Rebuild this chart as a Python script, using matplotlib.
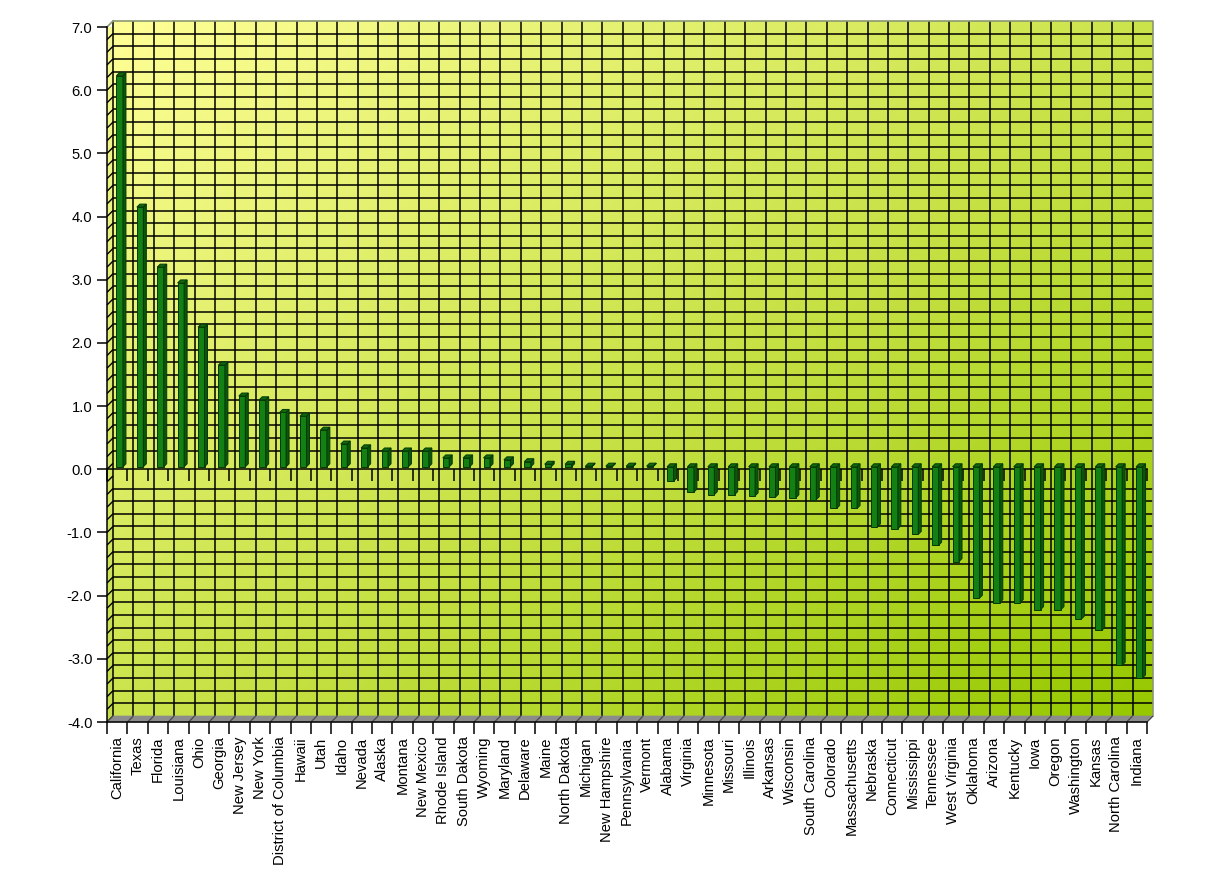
import numpy as np
import matplotlib
matplotlib.use('Agg')
import matplotlib.pyplot as plt
from matplotlib.patches import Polygon
from matplotlib.collections import LineCollection
from matplotlib import markers

states = ["California", "Texas", "Florida", "Louisiana", "Ohio", "Georgia",
          "New Jersey", "New York", "District of Columbia", "Hawaii", "Utah",
          "Idaho", "Nevada", "Alaska", "Montana", "New Mexico", "Rhode Island",
          "South Dakota", "Wyoming", "Maryland", "Delaware", "Maine",
          "North Dakota", "Michigan", "New Hampshire", "Pennsylvania", "Vermont",
          "Alabama", "Virginia", "Minnesota", "Missouri", "Illinois", "Arkansas",
          "Wisconsin", "South Carolina", "Colorado", "Massachusetts", "Nebraska",
          "Connecticut", "Mississippi", "Tennessee", "West Virginia", "Oklahoma",
          "Arizona", "Kentucky", "Iowa", "Oregon", "Washington", "Kansas",
          "North Carolina", "Indiana"]
values = [6.19, 4.11, 3.16, 2.91, 2.21, 1.61,
          1.12, 1.06, 0.86, 0.80, 0.58,
          0.36, 0.30, 0.25, 0.25, 0.25, 0.14,
          0.14, 0.14, 0.11, 0.08, 0.04,
          0.04, 0.01, 0.01, 0.01, 0.01,
          -0.23, -0.40, -0.44, -0.44, -0.46, -0.48,
          -0.49, -0.52, -0.66, -0.66, -0.95,
          -0.98, -1.07, -1.24, -1.50, -2.08,
          -2.15, -2.15, -2.26, -2.26, -2.41, -2.59,
          -3.14, -3.34]
y_ticks = [-4, -3, -2, -1, 0, 1, 2, 3, 4, 5, 6, 7]
y_tick_labels = ["-4.0", "-3.0", "-2.0", "-1.0", "0.0", "1.0", "2.0",
                 "3.0", "4.0", "5.0", "6.0", "7.0"]

plt.rcParams['font.family'] = ['Liberation Sans', 'DejaVu Sans']
plt.rcParams['font.size'] = 10.6

W, H = 1219, 881
fig = plt.figure(figsize=(W / 100, H / 100), dpi=100)
fig.patch.set_facecolor('white')
ax = fig.add_axes([107 / W, (H - 722) / H, 1040 / W, 695 / H])
ax.patch.set_visible(False)

n = len(states)
xmin, xmax = -0.5, n - 0.5
ymin, ymax = y_ticks[0], y_ticks[-1]
ax.set_xlim(xmin, xmax)
ax.set_ylim(ymin, ymax)

bb = ax.get_position()
px_x = (xmax - xmin) / (bb.width * W)
px_y = (ymax - ymin) / (bb.height * H)
# depth of back wall (pixels)
dX, dY = 6 * px_x, 6 * px_y

# ---- back wall gradient
nyi, nxi = 200, 400
u = np.linspace(0, 1, nxi)[None, :]
w = np.linspace(1, 0, nyi)[:, None]
t = np.clip(0.5 * (u + (1 - w)), 0, 1)
c0 = np.array([255, 255, 150]) / 255
c1 = np.array([150, 200, 0]) / 255
img = c0 + (c1 - c0) * t[..., None]
im = ax.imshow(img, extent=[xmin + dX, xmax + dX, ymin + dY, ymax + dY],
               origin='upper', aspect='auto', zorder=0, interpolation='bilinear')
im.set_clip_on(False)

# ---- left side wall
tw = np.linspace(1, 0, nyi)[:, None] * np.ones((1, 10))
cw0 = np.array([248, 250, 150]) / 255
cw1 = np.array([195, 220, 75]) / 255
imgw = cw1 + (cw0 - cw1) * tw[..., None]
wall_poly = Polygon([(xmin, ymin), (xmin + dX, ymin + dY), (xmin + dX, ymax + dY),
                     (xmin, ymax)], closed=True, transform=ax.transData)
imw = ax.imshow(imgw, extent=[xmin, xmin + dX, ymin, ymax + dY], origin='upper',
                aspect='auto', zorder=0, interpolation='bilinear')
imw.set_clip_path(wall_poly)

# ---- grid on back wall
grid_vals = np.round(np.arange(ymin, ymax + 0.001, 0.2), 2)
inner_h = [g for g in grid_vals if ymin < g < ymax and g not in (0.0, -0.2)]
ax.hlines(np.array(inner_h) + dY, xmin + dX, xmax + dX, colors='black',
          lw=1.1, zorder=1, clip_on=False)
bounds = np.arange(xmin, xmax + 0.001, 1.0)
ax.vlines(bounds[:-1] + dX, ymin + dY, ymax + dY, colors='black', lw=1.1,
          zorder=1, clip_on=False)
# wall edges
ax.plot([xmin + dX, xmax + dX, xmax + dX], [ymax + dY, ymax + dY, ymin + dY],
        color='#8a9870', lw=1.2, zorder=1, clip_on=False)
ax.plot([xmin, xmin + dX], [ymax, ymax + dY], color='#8a9870', lw=1.2,
        zorder=1, clip_on=False)

# side wall diagonals
segs = [[(xmin, g), (xmin + dX, g + dY)] for g in grid_vals if g < ymax]
ax.add_collection(LineCollection(segs, colors='black', lw=1.0, zorder=1,
                                 clip_on=False))

# ---- floor
floor = Polygon([(xmin, ymin), (xmax, ymin), (xmax + dX, ymin + dY),
                 (xmin + dX, ymin + dY)], closed=True, facecolor='#8c8c8c',
                edgecolor='#8c8c8c', lw=0.5, zorder=2, clip_on=False)
ax.add_patch(floor)
fsegs = [[(b, ymin), (b + dX, ymin + dY)] for b in bounds]
ax.add_collection(LineCollection(fsegs, colors='#4a4a4a', lw=0.9, zorder=2,
                                 clip_on=False))

# ---- zero line with ticks
ax.plot([xmin, xmax], [0, 0], color='black', lw=1.1, zorder=3, clip_on=False)
ax.plot(bounds, np.zeros_like(bounds), linestyle='none',
        marker=markers.TICKDOWN, markersize=8.5, mew=1.1, color='black',
        zorder=3, clip_on=False)

# ---- 3D bars
ox, oy = 2.5 * px_x, 2.5 * px_y
bw = 6.5 * px_x
ddx, ddy = 3.0 * px_x, 3.0 * px_y
front_c, side_c, top_c, edge_c = '#128012', '#0a560a', '#0d6a0d', '#063806'
for i, v in enumerate(values):
    x0 = i + ox - bw / 2
    x1 = x0 + bw
    ylo = min(v, 0) + oy
    yhi = max(v, 0) + oy
    front = Polygon([(x0, ylo), (x1, ylo), (x1, yhi), (x0, yhi)], closed=True,
                    facecolor=front_c, edgecolor=edge_c, lw=0.7, zorder=4)
    side = Polygon([(x1, ylo), (x1 + ddx, ylo + ddy), (x1 + ddx, yhi + ddy),
                    (x1, yhi)], closed=True, facecolor=side_c, edgecolor=edge_c,
                   lw=0.7, zorder=4)
    top = Polygon([(x0, yhi), (x1, yhi), (x1 + ddx, yhi + ddy),
                   (x0 + ddx, yhi + ddy)], closed=True, facecolor=top_c,
                  edgecolor=edge_c, lw=0.7, zorder=4)
    for p in (front, side, top):
        ax.add_patch(p)

# ---- axes, ticks, labels
for s in ('top', 'right'):
    ax.spines[s].set_visible(False)
for s in ('left', 'bottom'):
    ax.spines[s].set_color('black')
    ax.spines[s].set_linewidth(1.1)
    ax.spines[s].set_zorder(5)

ax.set_yticks(y_ticks)
ax.set_yticklabels(y_tick_labels)
ax.tick_params(axis='y', which='major', direction='out', length=7.5, width=1.1,
               pad=3, labelsize=10.6)

ax.set_xticks(bounds)
ax.set_xticklabels([])
ax.set_xticks(np.arange(n), minor=True)
ax.set_xticklabels(states, minor=True, rotation=90, va='top', ha='center')
ax.tick_params(axis='x', which='major', direction='out', length=8.5, width=1.1)
ax.tick_params(axis='x', which='minor', length=0, pad=10.5, labelsize=10.6)

ax.set_xlim(xmin, xmax)
ax.set_ylim(ymin, ymax)

fig.savefig('out.png', dpi=100, facecolor='white')
